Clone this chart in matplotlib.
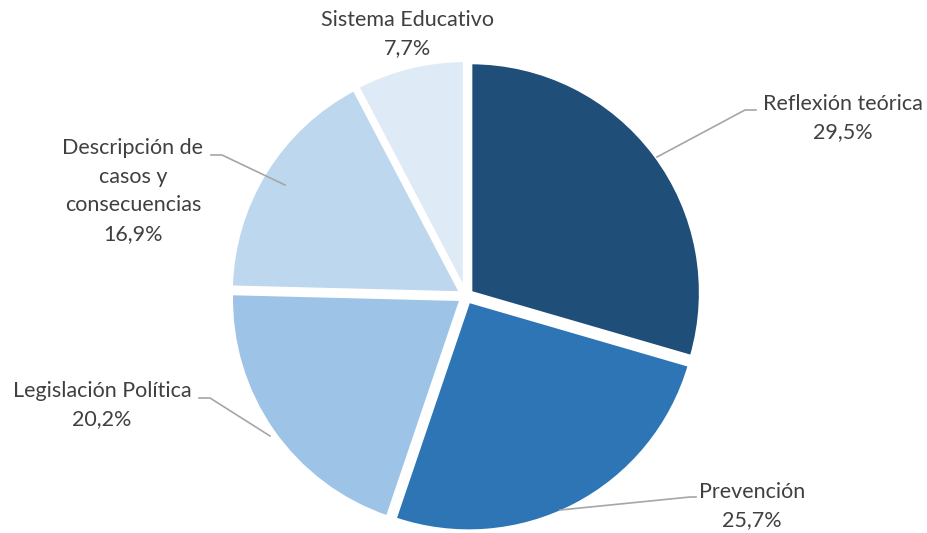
import matplotlib
matplotlib.use("Agg")
import matplotlib.pyplot as plt
import numpy as np

categories = ["Reflexión teórica", "Prevención", "Legislación Política",
              "Descripción de\ncasos y\nconsecuencias", "Sistema Educativo"]
values = [29.5, 25.7, 20.2, 16.9, 7.7]
value_labels = ["29,5%", "25,7%", "20,2%", "16,9%", "7,7%"]
colors = ["#1F4E79", "#2E75B6", "#9DC3E6", "#BDD7EE", "#DEEBF7"]

W, H = 928, 533
fig = plt.figure(figsize=(W / 100, H / 100), dpi=100)
cx, cy, R = 466, 296, 230
ax = fig.add_axes([(cx - R) / W, (H - cy - R) / H, 2 * R / W, 2 * R / H])

wedges, _ = ax.pie(values, colors=colors, startangle=90, counterclock=False,
                   explode=[0.025] * 5,
                   wedgeprops=dict(edgecolor="white", linewidth=2.5))
for w in wedges:
    w.set_clip_on(False)
ax.set_xlim(-1, 1)
ax.set_ylim(-1, 1)
ax.set_aspect("equal")
ax.axis("off")

def px2data(x, y):
    return ((x - cx) / R, (cy - y) / R)

# label positions (pixel text centers) and leader line points
specs = [
    dict(text=(843, 118), line=[(657, 157), (745, 110), (756, 110)]),
    dict(text=(752, 506), line=[(560, 510), (690, 497), (696, 497)]),
    dict(text=(102, 405), line=[(270, 436), (210, 398), (199, 398)]),
    dict(text=(133, 191), line=[(285, 185), (222, 155), (211, 155)]),
    dict(text=(408, 34), line=None),
]
font = dict(family=["Lato", "DejaVu Sans"], fontsize=15.5, color="#404040")
for cat, vl, s in zip(categories, value_labels, specs):
    tx, ty = px2data(*s["text"])
    ax.text(tx, ty, f"{cat}\n{vl}", ha="center", va="center",
            linespacing=1.55, clip_on=False, **font)
    if s["line"]:
        pts = np.array([px2data(x, y) for x, y in s["line"]])
        ax.plot(pts[:, 0], pts[:, 1], color="#A6A6A6", lw=1.2, clip_on=False)

fig.savefig("out.png", dpi=100)
